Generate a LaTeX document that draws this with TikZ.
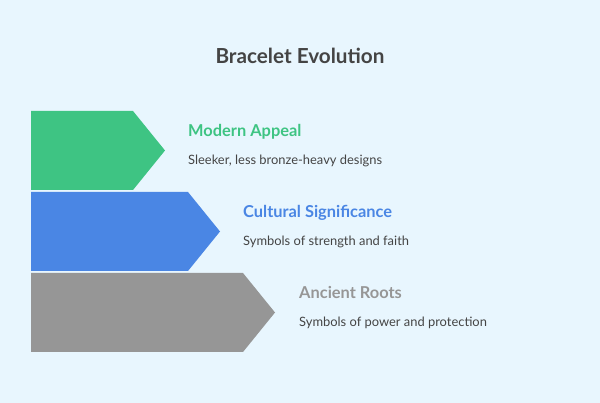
\documentclass[tikz,border=0pt]{standalone}
\usepackage{fontspec}
\setmainfont{Lato}
\definecolor{bg}{HTML}{E8F6FE}
\definecolor{cgreen}{HTML}{3EC483}
\definecolor{cblue}{HTML}{4A86E4}
\definecolor{cgray}{HTML}{969696}
\definecolor{ctext}{HTML}{444444}
\begin{document}
\begin{tikzpicture}[x=1pt,y=-1pt,
  head/.style={anchor=west,font=\bfseries\fontsize{16.4}{19}\selectfont},
  desc/.style={anchor=west,text=ctext,font=\fontsize{12.9}{15}\selectfont}]
\fill[bg] (0,0) rectangle (600,403);
\useasboundingbox (0,0) rectangle (600,403);
\node[text=ctext,font=\bfseries\fontsize{20.7}{24}\selectfont] (title) at (300,56) {Bracelet Evolution};
\fill[cgreen] (31,111) -- (133,111) -- (165,150.5) -- (133,190) -- (31,190) -- cycle;
\fill[cblue] (31,192) -- (188,192) -- (220,231.5) -- (188,271) -- (31,271) -- cycle;
\fill[cgray] (31,273) -- (243,273) -- (275,312.5) -- (243,352) -- (31,352) -- cycle;
\node[head,text=cgreen,inner sep=0] (h1) at (188,131.5) {Modern Appeal};
\node[desc,inner sep=0] (d1) at (188,160.5) {Sleeker, less bronze-heavy designs};
\node[head,text=cblue,inner sep=0] (h2) at (243,212.5) {Cultural Significance};
\node[desc,inner sep=0] (d2) at (243,241.5) {Symbols of strength and faith};
\node[head,text=cgray,inner sep=0] (h3) at (299,292.5) {Ancient Roots};
\node[desc,inner sep=0] (d3) at (299,322.5) {Symbols of power and protection};
\end{tikzpicture}
\end{document}
